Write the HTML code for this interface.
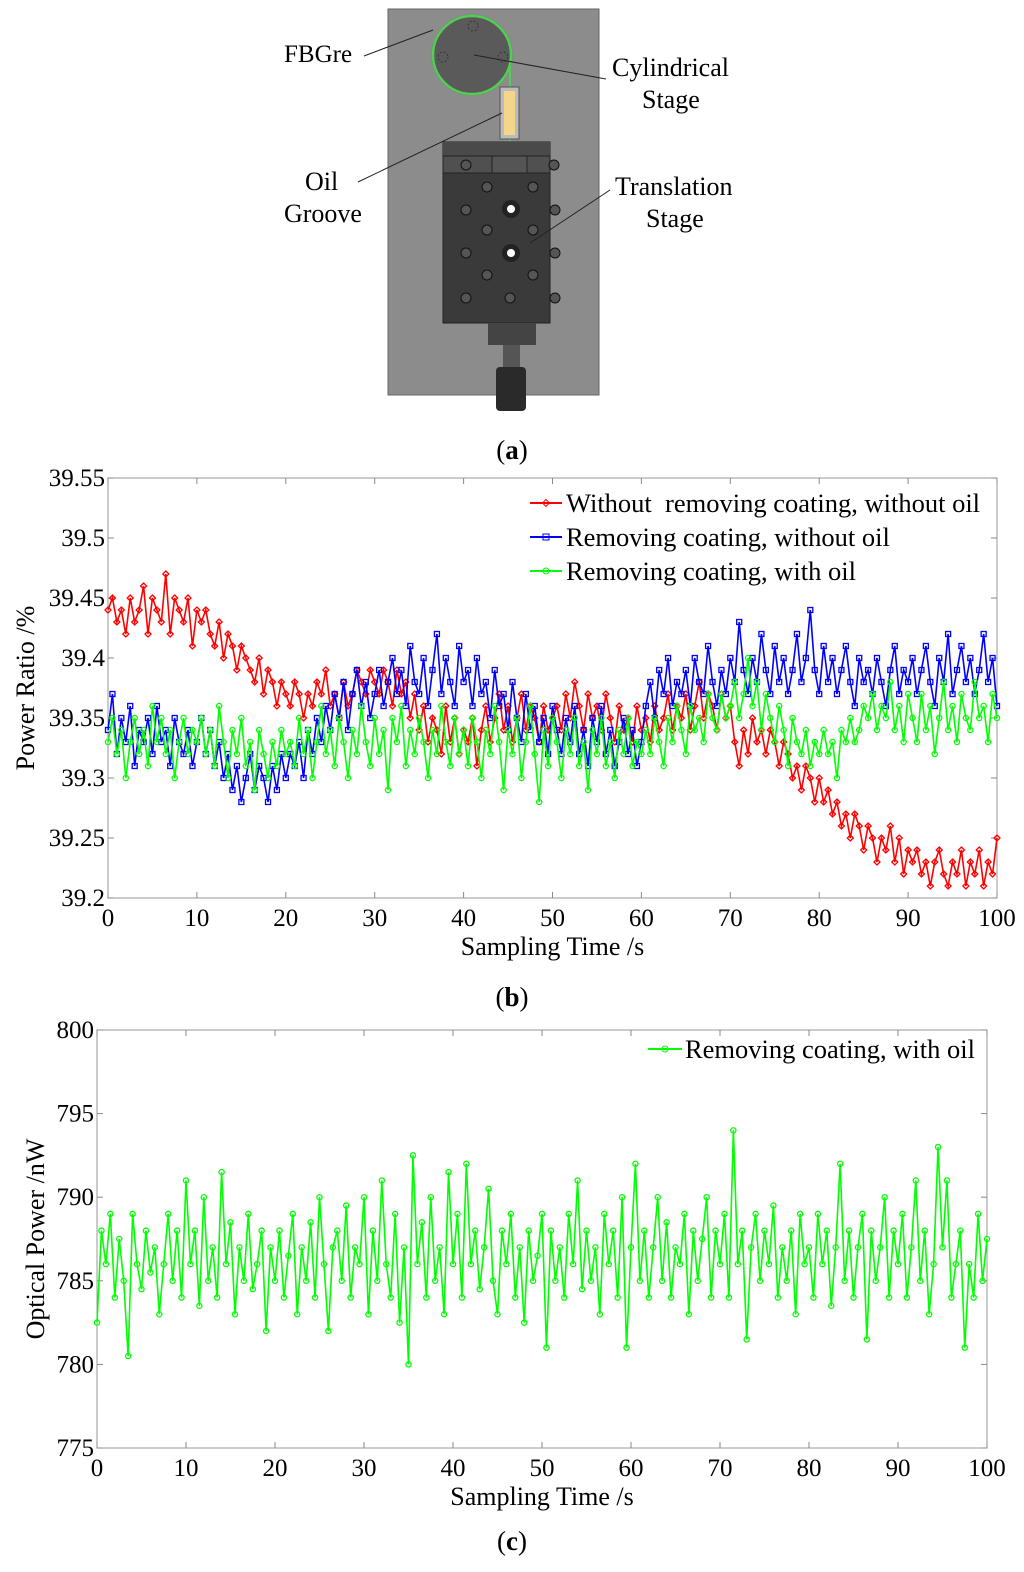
<!DOCTYPE html>
<html><head><meta charset="utf-8">
<style>
body{margin:0;background:#fff;width:1024px;height:1567px;overflow:hidden;font-family:"Liberation Serif",serif;}
svg text{font-family:"Liberation Serif",serif;white-space:pre;}
</style></head>
<body>
<svg id="fig" width="1024" height="1567" viewBox="0 0 1024 1567" xmlns="http://www.w3.org/2000/svg">
<g>
<rect x="388" y="9" width="211" height="386" fill="#8c8c8c" stroke="#666"/>
<circle cx="472" cy="55" r="40" fill="#5a5a5a" stroke="#3a3"/>
<circle cx="472" cy="55" r="39" fill="none" stroke="#5c5" stroke-width="2.5"/>
<circle cx="473" cy="26" r="5" fill="none" stroke="#333" stroke-dasharray="2,2"/>
<circle cx="443" cy="57" r="5" fill="none" stroke="#333" stroke-dasharray="2,2"/>
<circle cx="503" cy="57" r="5" fill="none" stroke="#333" stroke-dasharray="2,2"/>
<line x1="510" y1="60" x2="510" y2="155" stroke="#5c5" stroke-width="2"/>
<rect x="500" y="87" width="19" height="52" fill="#bbb" stroke="#555"/>
<rect x="504" y="91" width="11" height="44" fill="#f4d68a"/>
<rect x="443" y="142" width="107" height="181" fill="#3a3a3a" stroke="#222"/>
<rect x="443" y="142" width="107" height="14" fill="#4a4a4a"/>
<rect x="443" y="156" width="107" height="17" fill="#505050" stroke="#222"/>
<rect x="492" y="156" width="35" height="17" fill="#555" stroke="#222"/>
<g fill="#555" stroke="#111">
<circle cx="466" cy="165" r="5"/><circle cx="554" cy="165" r="5"/>
<circle cx="487" cy="187" r="5"/><circle cx="533" cy="187" r="5"/>
<circle cx="466" cy="210" r="5"/><circle cx="555" cy="210" r="5"/>
<circle cx="466" cy="253" r="5"/><circle cx="555" cy="253" r="5"/>
<circle cx="487" cy="230" r="5"/><circle cx="533" cy="230" r="5"/>
<circle cx="487" cy="275" r="5"/><circle cx="533" cy="275" r="5"/>
<circle cx="466" cy="298" r="5"/><circle cx="510" cy="298" r="5"/><circle cx="555" cy="298" r="5"/>
</g>
<circle cx="511" cy="209" r="9" fill="#222"/><circle cx="511" cy="209" r="4" fill="#fff"/>
<circle cx="511" cy="253" r="9" fill="#222"/><circle cx="511" cy="253" r="4" fill="#fff"/>
<rect x="488" y="323" width="48" height="22" fill="#444"/>
<rect x="503" y="345" width="17" height="22" fill="#555"/>
<rect x="496" y="367" width="30" height="44" rx="4" fill="#2a2a2a"/>
<text x="284" y="62" font-size="25">FBGre</text>
<line x1="364" y1="56" x2="433" y2="30" stroke="#222"/>
<text x="612" y="76" font-size="26">Cylindrical</text>
<text x="642" y="108" font-size="26">Stage</text>
<line x1="606" y1="79" x2="474" y2="55" stroke="#222"/>
<text x="305" y="190" font-size="26">Oil</text>
<text x="284" y="222" font-size="26">Groove</text>
<line x1="358" y1="182" x2="502" y2="113" stroke="#222"/>
<text x="615" y="195" font-size="26">Translation</text>
<text x="646" y="227" font-size="26">Stage</text>
<line x1="610" y1="190" x2="530" y2="243" stroke="#222"/>
</g>
<text x="512" y="459" font-size="27" text-anchor="middle">(<tspan font-weight="bold">a</tspan>)</text>
<text x="512" y="1006" font-size="27" text-anchor="middle">(<tspan font-weight="bold">b</tspan>)</text>
<text x="512" y="1550" font-size="27" text-anchor="middle">(<tspan font-weight="bold">c</tspan>)</text>
<g id="chartB"></g>
<g id="chartC"></g>
</svg>
<script>
const xTicks=[0,10,20,30,40,50,60,70,80,90,100];
const bYTicks=[39.2,39.25,39.3,39.35,39.4,39.45,39.5,39.55];
const bYLabels=["39.2","39.25","39.3","39.35","39.4","39.45","39.5","39.55"];
const cYTicks=[775,780,785,790,795,800];
const redVals=[39.44,39.45,39.43,39.44,39.42,39.45,39.43,39.44,39.46,39.42,39.45,39.44,39.43,39.47,39.42,39.45,39.44,39.43,39.45,39.41,39.44,
39.43,39.44,39.42,39.41,39.43,39.40,39.42,39.41,39.39,39.41,39.40,39.39,39.38,39.40,39.37,39.39,39.38,39.36,39.38,39.37,
39.36,39.38,39.37,39.35,39.37,39.36,39.38,39.37,39.39,39.36,39.37,39.35,39.38,39.36,39.37,39.39,39.38,39.37,39.39,39.38,
39.37,39.39,39.38,39.36,39.39,39.37,39.38,39.35,39.37,39.34,39.36,39.33,39.35,39.34,39.32,39.36,39.33,39.35,39.32,39.34,
39.33,39.35,39.31,39.34,39.36,39.33,39.35,39.37,39.34,39.36,39.33,39.35,39.37,39.34,39.36,39.35,39.33,39.36,39.34,39.35,
39.36,39.34,39.37,39.35,39.38,39.36,39.34,39.37,39.35,39.36,39.34,39.37,39.35,39.33,39.36,39.34,39.35,39.33,39.36,39.34,
39.35,39.33,39.36,39.34,39.35,39.37,39.34,39.36,39.35,39.37,39.34,39.36,39.38,39.35,39.37,39.36,39.34,39.37,39.35,39.36,
39.33,39.31,39.34,39.32,39.35,39.33,39.34,39.32,39.34,39.33,39.31,39.33,39.32,39.30,39.31,39.29,39.31,39.30,39.28,39.30,
39.28,39.29,39.27,39.28,39.26,39.27,39.25,39.27,39.26,39.24,39.26,39.25,39.23,39.25,39.24,39.26,39.23,39.25,39.22,39.24,
39.23,39.24,39.22,39.23,39.21,39.23,39.24,39.22,39.21,39.23,39.22,39.24,39.21,39.23,39.22,39.24,39.21,39.23,39.22,39.25];
const blueVals=[39.34,39.37,39.32,39.35,39.33,39.36,39.31,39.34,39.33,39.35,39.32,39.36,39.33,39.34,39.31,39.35,39.33,39.32,39.34,39.31,39.33,
39.35,39.32,39.34,39.31,39.33,39.30,39.32,39.29,39.31,39.28,39.30,39.32,39.29,39.31,39.30,39.28,39.31,39.29,39.32,39.30,
39.32,39.31,39.33,39.30,39.34,39.32,39.35,39.33,39.36,39.34,39.37,39.35,39.38,39.34,39.37,39.39,39.36,39.38,39.35,39.37,
39.39,39.36,39.38,39.40,39.37,39.39,39.36,39.41,39.38,39.37,39.40,39.36,39.39,39.42,39.37,39.40,39.38,39.36,39.41,39.38,
39.39,39.36,39.40,39.37,39.38,39.35,39.39,39.36,39.37,39.34,39.38,39.35,39.33,39.37,39.34,39.36,39.33,39.35,39.32,39.36,
39.34,39.32,39.35,39.33,39.36,39.32,39.34,39.31,39.35,39.33,39.36,39.32,39.34,39.31,39.33,39.35,39.32,39.34,39.31,39.33,
39.36,39.38,39.35,39.39,39.37,39.40,39.36,39.38,39.37,39.39,39.36,39.40,39.38,39.37,39.41,39.38,39.36,39.39,39.37,39.40,
39.38,39.43,39.39,39.37,39.40,39.38,39.42,39.39,39.37,39.41,39.38,39.40,39.37,39.39,39.42,39.38,39.40,39.44,39.39,39.37,
39.41,39.38,39.40,39.37,39.39,39.41,39.38,39.36,39.40,39.38,39.39,39.37,39.40,39.38,39.36,39.39,39.41,39.37,39.39,39.38,
39.40,39.37,39.39,39.41,39.38,39.36,39.40,39.38,39.42,39.37,39.39,39.41,39.38,39.40,39.37,39.39,39.42,39.38,39.40,39.36];
const greenVals=[39.33,39.35,39.32,39.34,39.30,39.33,39.35,39.32,39.34,39.31,39.36,39.33,39.35,39.32,39.34,39.30,39.33,39.35,39.32,39.34,39.33,
39.35,39.32,39.34,39.31,39.36,39.33,39.30,39.34,39.32,39.35,39.31,39.33,39.29,39.34,39.32,39.30,39.33,39.31,39.34,39.32,
39.33,39.31,39.35,39.32,39.34,39.30,39.33,39.36,39.32,39.34,39.31,39.35,39.33,39.30,39.34,39.32,39.36,39.33,39.31,39.35,
39.32,39.34,39.29,39.35,39.33,39.36,39.31,39.34,39.32,39.35,39.33,39.30,39.34,39.32,39.36,39.33,39.31,39.35,39.32,39.34,
39.31,39.35,39.33,39.30,39.34,39.32,39.36,39.33,39.29,39.34,39.32,39.35,39.30,39.33,39.36,39.32,39.28,39.34,39.31,39.35,
39.33,39.30,39.34,39.32,39.35,39.31,39.33,39.29,39.34,39.32,39.35,39.31,39.33,39.30,39.34,39.32,39.35,39.31,39.33,39.32,
39.34,39.32,39.35,39.33,39.31,39.35,39.33,39.36,39.34,39.32,39.36,39.34,39.35,39.33,39.37,39.35,39.34,39.37,39.35,39.36,
39.38,39.35,39.37,39.40,39.36,39.38,39.34,39.37,39.35,39.33,39.36,39.34,39.31,39.35,39.33,39.32,39.34,39.31,39.33,39.32,
39.34,39.32,39.33,39.30,39.34,39.33,39.35,39.33,39.34,39.36,39.35,39.37,39.34,39.36,39.35,39.38,39.34,39.36,39.33,39.37,
39.35,39.33,39.37,39.34,39.36,39.32,39.35,39.38,39.34,39.36,39.33,39.37,39.35,39.34,39.38,39.35,39.36,39.33,39.37,39.35];
const cVals=[782.5,788,786,789,784,787.5,785,780.5,789,786,784.5,788,785.5,787,783,786,789,785,788,784,791,
786,788,783.5,790,785,787,784,791.5,786,788.5,783,787,785,789,784.5,786,788,782,787,785,
788,784,786.5,789,783,787,785,788.5,784,790,786,782,787,788,785,789.5,784,787,786,790,
783,788,785,791,786,784,789,782.5,787,780,792.5,786,788.5,784,790,785,787,783,791.5,786,
789,784,792,786,788,784.5,787,790.5,785,783,788,786,789,784,787,782.5,788,785,786.5,789,
781,788,785,787,784,789,786,791,784.5,788,785,787,783,789,786,788,784,790,781,787,
792,785,788,784,787,790,785,788.5,784,787,786,789,783,788,785,787.5,790,784,788,786,
789,784,794,786,788,781.5,787,789,785,788,786,789.5,784,787,785,788,783,789,786,787,
784,789,786,788,783.5,787,792,785,788,784,787,789,781.5,788,785,787,790,784,788,786,
789,784,787,791,785,788,783,786,793,787,791,784,786,788,781,786,784,789,785,787.5];
function make(tag,attrs,parent){const e=document.createElementNS('http://www.w3.org/2000/svg',tag);for(const k in attrs)e.setAttribute(k,attrs[k]);parent.appendChild(e);return e;}
function chart(g,L,R,T,B,ymin,ymax,yt,yl,series,ylabel,ylx){
 const sx=v=>L+(v/100)*(R-L), sy=v=>B-(v-ymin)/(ymax-ymin)*(B-T);
 const fr=make('rect',{x:L,y:T,width:R-L,height:B-T,fill:'none',stroke:'#999','stroke-width':1},g);
 
 
 xTicks.forEach(t=>{const x=sx(t);make('line',{x1:x,y1:B,x2:x,y2:B-6,stroke:'#888'},g);make('line',{x1:x,y1:T,x2:x,y2:T+6,stroke:'#888'},g);
  const tx=make('text',{x:x,y:B+28,'font-size':25,'text-anchor':'middle'},g);tx.textContent=t;
  
  });
 yt.forEach((t,i)=>{const y=sy(t);make('line',{x1:L,y1:y,x2:L+6,y2:y,stroke:'#888'},g);make('line',{x1:R,y1:y,x2:R-6,y2:y,stroke:'#888'},g);
  const tx=make('text',{x:L-3,y:y+8,'font-size':25,'text-anchor':'end'},g);tx.textContent=yl[i];
  
  });
 series.forEach(s=>{
  const n=s.vals.length;const pts=s.vals.map((v,i)=>[sx(i*100/(n-1)),sy(v)]);
  const pl=make('polyline',{points:pts.map(p=>p.join(',')).join(' '),fill:'none',stroke:s.color,'stroke-width':1.6},g);
  
  
  pts.forEach(p=>{let m;
   if(s.mk==='d')m=make('path',{d:`M${p[0]},${p[1]-3}l3,3l-3,3l-3,-3z`,fill:'none',stroke:s.color,'stroke-width':1.3},g);
   else if(s.mk==='s')m=make('rect',{x:p[0]-2.5,y:p[1]-2.5,width:5,height:5,fill:'none',stroke:s.color,'stroke-width':1.3},g);
   else m=make('circle',{cx:p[0],cy:p[1],r:2.6,fill:'none',stroke:s.color,'stroke-width':1.3},g);
   
   });
 });
 const xl=make('text',{x:(L+R)/2,y:B+57,'font-size':26,'text-anchor':'middle'},g);xl.textContent='Sampling Time /s';
 
 
 const yy=make('text',{x:0,y:0,'font-size':26,'text-anchor':'middle',transform:`translate(${ylx},${(T+B)/2}) rotate(-90)`},g);yy.textContent=ylabel;
 
 
}
const gB=document.getElementById('chartB'),gC=document.getElementById('chartC');
const sB=[{vals:redVals,color:'#f00',mk:'d',name:'without-removing-coating',label:'Without  removing coating, without oil'},
{vals:blueVals,color:'#00f',mk:'s',name:'removing-coating-no-oil',label:'Removing coating, without oil'},
{vals:greenVals,color:'#0f0',mk:'o',name:'removing-coating-with-oil',label:'Removing coating, with oil'}];
chart(gB,108,997,478,898,39.2,39.55,bYTicks,bYLabels,sB,'Power Ratio /%',34);
sB.forEach((s,i)=>{const y=503+i*34;
 const lg=make('g',{},gB);
 
 
 make('line',{x1:530,y1:y,x2:562,y2:y,stroke:s.color,'stroke-width':2},lg);
 if(s.mk==='d')make('path',{d:`M546,${y-3.5}l3.5,3.5l-3.5,3.5l-3.5,-3.5z`,fill:'none',stroke:s.color},lg);
 else if(s.mk==='s')make('rect',{x:543,y:y-3,width:6,height:6,fill:'none',stroke:s.color},lg);
 else make('circle',{cx:546,cy:y,r:3,fill:'none',stroke:s.color},lg);
 const t=make('text',{x:566,y:y+9,'font-size':26.5},lg);t.textContent=s.label;});
chart(gC,97,987,1030,1448,775,800,cYTicks,cYTicks.map(String),[{vals:cVals,color:'#0f0',mk:'o',name:'optical-power'}],'Optical Power /nW',44);
const lc=make('g',{},gC);


make('line',{x1:648,y1:1049,x2:682,y2:1049,stroke:'#0f0','stroke-width':2},lc);
make('circle',{cx:665,cy:1049,r:3,fill:'none',stroke:'#0f0'},lc);
const tc=make('text',{x:685,y:1058,'font-size':26.5},lc);tc.textContent='Removing coating, with oil';
</script>
</body></html>
